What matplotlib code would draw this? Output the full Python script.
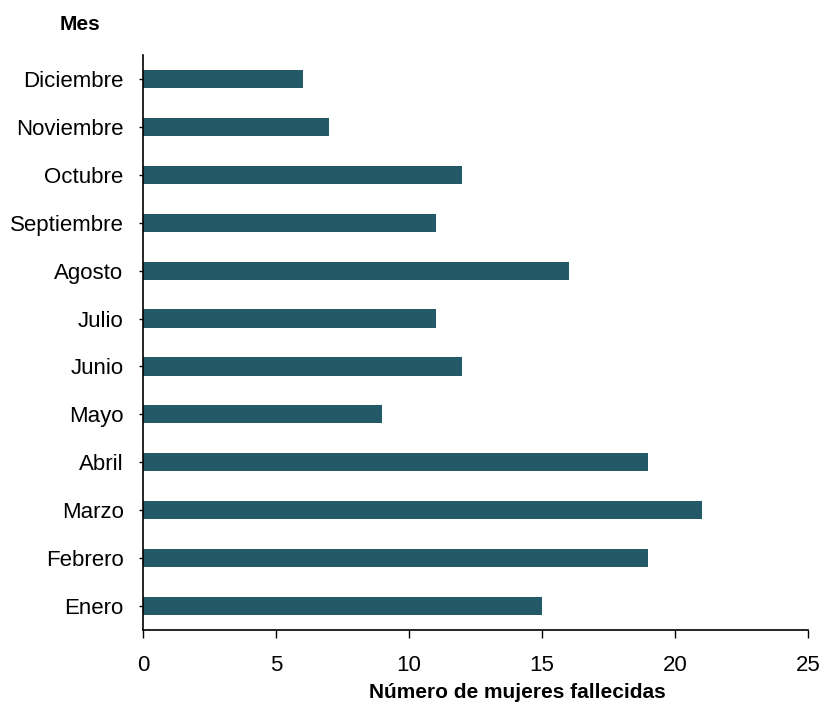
import matplotlib
matplotlib.use("Agg")
import matplotlib.pyplot as plt

months = ["Enero", "Febrero", "Marzo", "Abril", "Mayo", "Junio", "Julio",
          "Agosto", "Septiembre", "Octubre", "Noviembre", "Diciembre"]
values = [15, 19, 21, 19, 9, 12, 11, 16, 11, 12, 7, 6]
xticks = [0, 5, 10, 15, 20, 25]

plt.rcParams['font.family'] = ['Liberation Sans', 'DejaVu Sans']

fig = plt.figure(figsize=(8.24, 7.07), dpi=100)
ax = fig.add_axes([143/824, 1-630/707, (808-143)/824, (630-55)/707])

ax.barh(range(len(months)), values, height=0.38, color="#245a68")
ax.set_ylim(-0.5, len(months) - 0.5)
ax.set_xlim(0, 25)
ax.set_xticks(xticks)
ax.set_xticklabels([str(t) for t in xticks])
ax.set_yticks(range(len(months)))
ax.set_yticklabels(months)
ax.tick_params(axis='y', length=3, width=1, labelsize=16, pad=11, direction='out')
ax.tick_params(axis='x', length=6, width=1, labelsize=16, pad=12, direction='out')
for s in ['top', 'right']:
    ax.spines[s].set_visible(False)
for s in ['left', 'bottom']:
    ax.spines[s].set_linewidth(1.2)

fig.text(517/824, 1-692/707, "Número de mujeres fallecidas", ha='center', va='center',
         fontsize=15, fontweight='bold')
fig.text(80/824, 1-25/707, "Mes", ha='center', va='center', fontsize=15, fontweight='bold')

fig.savefig("out.png", dpi=100)
